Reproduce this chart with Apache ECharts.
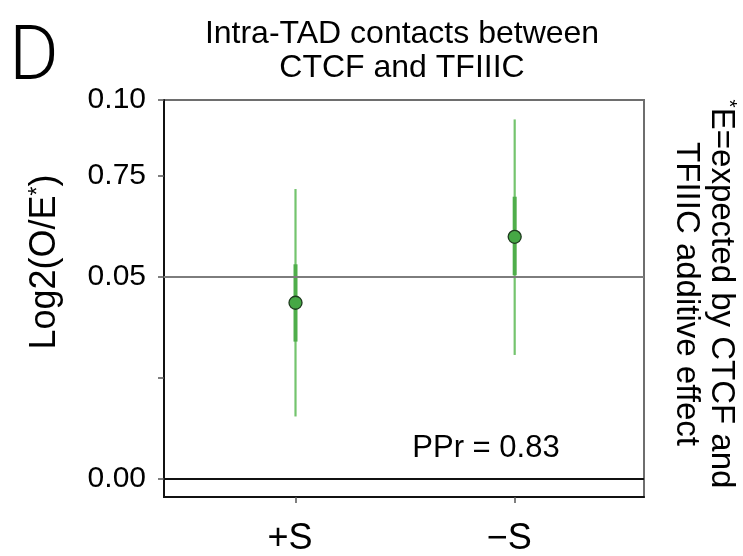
<!DOCTYPE html>
<html>
<head>
<meta charset="utf-8">
<script src="https://cdn.jsdelivr.net/npm/echarts@6/dist/echarts.min.js"></script>
<style>
html,body{margin:0;padding:0;background:#fff;}
#chart{width:743px;height:556px;}
</style>
</head>
<body>
<div id="chart"></div>
<script>
// ---- data ----
var categories = ['+S', '\u2212S'];
var means = [0.0435, 0.0598];
var innerLow = [0.0339, 0.0503];
var innerHigh = [0.0530, 0.0697];
var outerLow = [0.0154, 0.0306];
var outerHigh = [0.0716, 0.0888];
var yTickValues = [0, 0.025, 0.05, 0.075, 0.0936];
var yTickLabels = ['0.00', '', '0.05', '0.75', '0.10'];
var refLines = [0.05, 0];
var yMin = -0.0045, yMax = 0.0936;
var ppr = 'PPr = 0.83';

var FONT = '"Liberation Sans", Arial, Helvetica, sans-serif';
var xs = categories.map(function (c, i) { return i + 1; });

function barData(lo, hi) {
  return xs.map(function (x, i) { return [x, lo[i], hi[i]]; });
}
function renderBar(width, color) {
  return function (params, api) {
    var p1 = api.coord([api.value(0), api.value(1)]);
    var p2 = api.coord([api.value(0), api.value(2)]);
    return {
      type: 'line',
      shape: { x1: p1[0], y1: p1[1], x2: p2[0], y2: p2[1] },
      style: { stroke: color, lineWidth: width }
    };
  };
}

var chart = echarts.init(document.getElementById('chart'), null, { renderer: 'canvas' });
chart.setOption({
  animation: false,
  backgroundColor: '#ffffff',
  grid: {
    left: 164, right: 99, top: 100, bottom: 59,
    containLabel: false, outerBoundsMode: 'none',
    show: true, borderColor: '#6e6e6e', borderWidth: 2, backgroundColor: 'transparent'
  },
  xAxis: {
    type: 'value', min: 0.4, max: 2.59,
    axisLine: { show: true, onZero: false, lineStyle: { color: '#111', width: 2 } },
    axisTick: { show: true, customValues: xs, length: 6, lineStyle: { color: '#555', width: 1.5 } },
    axisLabel: {
      customValues: xs, margin: 24, fontSize: 36, color: '#000', fontFamily: FONT,
      padding: [0, 11, 0, 0],
      formatter: function (v) { return categories[Math.round(v) - 1] || ''; }
    },
    splitLine: { show: false }
  },
  yAxis: {
    type: 'value', min: yMin, max: yMax,
    axisLine: { show: true, onZero: false, lineStyle: { color: '#111', width: 2 } },
    axisTick: { show: true, customValues: yTickValues, length: 6, lineStyle: { color: '#555', width: 1.5 } },
    axisLabel: {
      customValues: yTickValues.filter(function (v, i) { return yTickLabels[i] !== ''; }),
      showMinLabel: true, showMaxLabel: true,
      margin: 18, fontSize: 30, color: '#000', fontFamily: FONT,
      formatter: function (v) {
        for (var i = 0; i < yTickValues.length; i++) {
          if (Math.abs(yTickValues[i] - v) < 1e-9) return yTickLabels[i];
        }
        return '';
      }
    },
    splitLine: { show: false }
  },
  series: [
    {
      type: 'line', data: [], silent: true, z: 1,
      markLine: {
        symbol: 'none', silent: true, label: { show: false },
        data: [
          { yAxis: refLines[0], lineStyle: { color: '#7d7d7d', width: 2, type: 'solid' } },
          { yAxis: refLines[1], lineStyle: { color: '#111', width: 2, type: 'solid' } }
        ]
      }
    },
    {
      type: 'custom', z: 3, data: barData(outerLow, outerHigh),
      renderItem: renderBar(2.2, '#74c46e'), silent: true
    },
    {
      type: 'custom', z: 4, data: barData(innerLow, innerHigh),
      renderItem: renderBar(4, '#4fae4a'), silent: true
    },
    {
      type: 'scatter', z: 5, symbol: 'circle', symbolSize: 13,
      data: xs.map(function (x, i) { return [x, means[i]]; }),
      itemStyle: { color: '#46a845', borderColor: '#1e3a1e', borderWidth: 1.3, opacity: 1 }
    }
  ],
  graphic: [
    {
      type: 'text', left: 9, top: 22, z: 10,
      style: { text: 'D', fontSize: 76, fontFamily: 'Roboto, ' + FONT, fontWeight: 300, fill: '#000' }
    },
    {
      type: 'text', x: 402, y: 17, z: 10,
      style: {
        text: 'Intra-TAD contacts between\nCTCF and TFIIIC', align: 'center',
        fontSize: 32, lineHeight: 34, fontFamily: FONT, fill: '#000'
      }
    },
    {
      type: 'text', x: 45, y: 262, rotation: Math.PI / 2, z: 10,
      style: {
        text: '{a|Log2(O/E}{s|*}{a|)}', align: 'center', verticalAlign: 'middle',
        rich: {
          a: { fontSize: 36, fontFamily: FONT, fill: '#000' },
          s: { fontSize: 23, fontFamily: FONT, fill: '#000', verticalAlign: 'top', padding: [0, 0, 10, 0] }
        }
      }
    },
    {
      type: 'text', x: 704, y: 294, rotation: -Math.PI / 2, z: 10,
      style: {
        text: '{s|*}{a|E=expected by CTCF and}\n{a|TFIIIC additive effect}',
        align: 'center', verticalAlign: 'middle',
        rich: {
          a: { fontSize: 33, fontFamily: FONT, fill: '#000', lineHeight: 35 },
          s: { fontSize: 21, fontFamily: FONT, fill: '#000', verticalAlign: 'top', lineHeight: 35, padding: [0, 0, 8, 0] }
        }
      }
    },
    {
      type: 'text', x: 486, y: 448, z: 10,
      style: { text: ppr, align: 'center', verticalAlign: 'middle', fontSize: 31, fontFamily: FONT, fill: '#000' }
    }
  ]
});
</script>
</body>
</html>
